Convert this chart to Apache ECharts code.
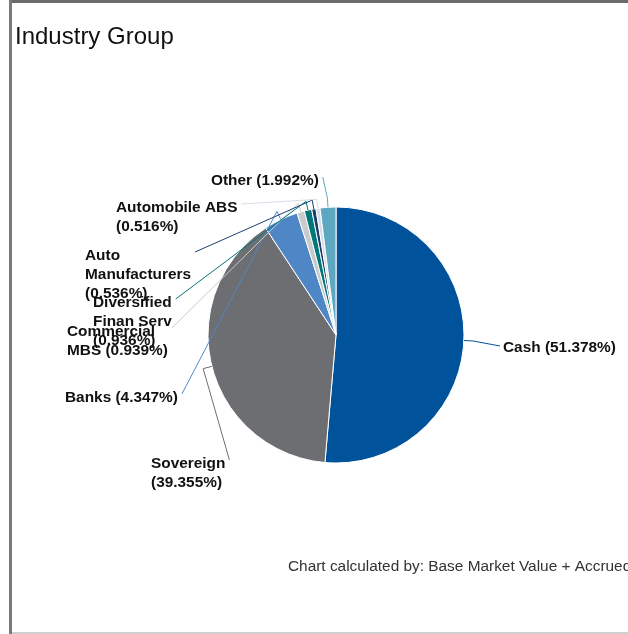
<!DOCTYPE html>
<html>
<head>
<meta charset="utf-8">
<script src="https://cdn.jsdelivr.net/npm/echarts@6/dist/echarts.min.js"></script>
<style>
html,body{margin:0;padding:0;background:#fff;}
#chart{width:628px;height:634px;}
</style>
</head>
<body>
<div id="chart"></div>
<script>
// ---- data ----
const categories = ['Cash', 'Sovereign', 'Banks', 'Commercial MBS', 'Diversified Finan Serv', 'Auto Manufacturers', 'Automobile ABS', 'Other'];
const values = [51.378, 39.355, 4.347, 0.939, 0.936, 0.536, 0.516, 1.992];
const displayNames = ['Cash', 'Sovereign\n', 'Banks', 'Commercial\nMBS', 'Diversified\nFinan Serv\n', 'Auto\nManufacturers\n', 'Automobile ABS\n', 'Other'];
const titleText = 'Industry Group';
const footnoteText = 'Chart calculated by: Base Market Value + Accrued Interest';

// ---- styles / layout ----
const colors = ['#00539B', '#6D6E71', '#4F87C6', '#C9CACC', '#00787A', '#1C3F6E', '#D5DEE8', '#5DA8C0'];
const labelPos = [
  [503, 338], [151, 454], [65, 388], [67, 322], [93, 293], [85, 246], [116, 198], [211, 171]
];
const FONT = "'Liberation Sans', Arial, sans-serif";
const LABEL_FS = 15.4;
const PIE_CENTER = [336, 335];
const PIE_RADIUS = 128;

function labelText(i) {
  const dn = displayNames[i];
  const sep = dn.endsWith('\n') ? '' : ' ';
  return dn + sep + '(' + values[i].toFixed(3) + '%)';
}
const measureCtx = document.createElement('canvas').getContext('2d');
measureCtx.font = 'bold ' + LABEL_FS + "px 'Liberation Sans', Arial, sans-serif";
function labelWidth(i) {
  return Math.max.apply(null, labelText(i).split('\n').map(function (s) { return measureCtx.measureText(s).width; }));
}

const chart = echarts.init(document.getElementById('chart'));
chart.setOption({
  animation: false,
  title: {
    text: titleText, left: 15, top: 25, padding: 0,
    textStyle: { fontFamily: FONT, fontSize: 24, fontWeight: 'normal', color: '#111' }
  },
  color: colors,
  graphic: [
    { type: 'rect', shape: { x: 10, y: 0, width: 618, height: 3 }, style: { fill: '#6b6b6b' }, silent: true },
    { type: 'rect', shape: { x: 9, y: 0, width: 3, height: 634 }, style: { fill: '#7a7a7a' }, silent: true },
    { type: 'rect', shape: { x: 12, y: 632, width: 616, height: 2 }, style: { fill: '#cfcfcf' }, silent: true },
    { type: 'text', left: 288, top: 559, style: { text: footnoteText, font: "15.4px 'Liberation Sans', Arial, sans-serif", fill: '#333' }, silent: true }
  ],
  series: [{
    // slices
    type: 'pie',
    z: 2,
    center: PIE_CENTER,
    radius: PIE_RADIUS,
    startAngle: 90,
    clockwise: true,
    itemStyle: { borderColor: '#fff', borderWidth: 1 },
    label: { show: false },
    labelLine: { show: false },
    emphasis: { disabled: true },
    data: categories.map(function (c, i) { return { name: c, value: values[i] }; })
  }, {
    // labels and connectors drawn above the slices
    type: 'pie',
    z: 5,
    silent: true,
    center: PIE_CENTER,
    radius: PIE_RADIUS,
    startAngle: 90,
    clockwise: true,
    avoidLabelOverlap: false,
    itemStyle: { color: 'rgba(0,0,0,0)', borderWidth: 0 },
    label: {
      show: true,
      fontFamily: FONT, fontSize: LABEL_FS, fontWeight: 'bold', color: '#111',
      lineHeight: 19,
      formatter: function (p) { return labelText(p.dataIndex); }
    },
    labelLine: { show: true, length: 10, length2: 8, lineStyle: { width: 1 } },
    labelLayout: function (params) {
      const i = params.dataIndex;
      const p = labelPos[i];
      const pts = params.labelLinePoints;
      const res = { x: p[0], y: p[1], align: 'left', verticalAlign: 'top' };
      if (pts && pts.length >= 2) {
        const e = pts[0];
        const dx = pts[1][0] - e[0], dy = pts[1][1] - e[1];
        const d = Math.sqrt(dx * dx + dy * dy) || 1;
        const mid = [e[0] + dx / d * 9, e[1] + dy / d * 9];
        const onRight = p[0] > e[0];
        const end = onRight ? [p[0] - 3, p[1] + 8] : [p[0] + labelWidth(i) + 4, p[1] + 6];
        res.labelLinePoints = [e, mid, end];
      }
      return res;
    },
    emphasis: { disabled: true },
    data: categories.map(function (c, i) {
      return { name: c, value: values[i], labelLine: { lineStyle: { color: colors[i], opacity: 1 } } };
    })
  }]
});
</script>
</body>
</html>
